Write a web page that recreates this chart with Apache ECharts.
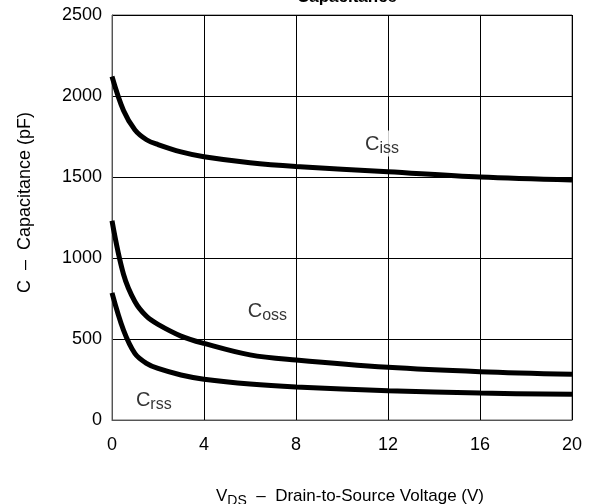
<!DOCTYPE html>
<html><head><meta charset="utf-8">
<script src="https://cdn.jsdelivr.net/npm/echarts@6/dist/echarts.min.js"></script>
<style>html,body{margin:0;padding:0;background:#fff}#c{width:600px;height:504px}</style>
</head><body><div id="c"></div>
<script>
const vds = [0, 0.5, 1, 1.5, 2, 3, 4, 6, 8, 12, 16, 20];
const ciss = [2120, 1910, 1790, 1730, 1700, 1655, 1625, 1588, 1565, 1533, 1500, 1482];
const coss = [1230, 900, 730, 640, 590, 518, 473, 402, 370, 325, 298, 282];
const crss = [785, 555, 410, 350, 318, 278, 252, 222, 204, 181, 166, 159];
const xTicks = [0, 4, 8, 12, 16, 20];
const yTicks = [0, 500, 1000, 1500, 2000, 2500];
const labels = [
  {main: 'C', sub: 'iss', at: [11.0, 1707]},
  {main: 'C', sub: 'oss', at: [5.9, 675]},
  {main: 'C', sub: 'rss', at: [1.04, 128]}
];

const font = 'Liberation Sans, Arial, sans-serif';
const chart = echarts.init(document.getElementById('c'), null, {renderer: 'canvas'});
const zip = a => vds.map((v, i) => [v, a[i]]);
const lineSeries = (name, arr) => ({
  name, type: 'line', data: zip(arr), smooth: 0.35, symbol: 'none',
  lineStyle: {color: '#000', width: 5}, z: 3
});
const rich = {
  m: {fontFamily: font, fontSize: 20, color: '#000', lineHeight: 24},
  s: {fontFamily: font, fontSize: 16, color: '#000', lineHeight: 24, padding: [8, 0, 0, 0]}
};
chart.setOption({
  animation: false,
  backgroundColor: '#fff',
  textStyle: {fontFamily: font},
  title: {
    text: 'Capacitance', left: 342, textAlign: 'center', top: -16,
    textStyle: {fontFamily: font, fontSize: 17, fontWeight: 'bold', color: '#000'}
  },
  grid: {left: 112, right: 28, top: 15, bottom: 84, show: true, borderColor: '#666', borderWidth: 1,
    containLabel: false, outerBoundsMode: 'none'},
  xAxis: {
    type: 'value', min: 0, max: 20, interval: 4,
    axisLine: {show: true, lineStyle: {color: '#555', width: 1}},
    axisTick: {show: false},
    splitLine: {show: true, lineStyle: {color: '#000', width: 1}},
    axisLabel: {fontFamily: font, fontSize: 18, color: '#000', margin: 16,
      formatter: v => xTicks.includes(v) ? String(v) : ''},
    name: '{v|V}{d|DS}{t|  –  Drain-to-Source Voltage (V)}',
    nameLocation: 'middle', nameGap: 65,
    nameTextStyle: {padding: [0, 0, 0, 16], rich: {
      v: {fontFamily: font, fontSize: 17, color: '#000'},
      d: {fontFamily: font, fontSize: 14, color: '#000', padding: [9, 0, 0, 0]},
      t: {fontFamily: font, fontSize: 17, color: '#000'}
    }}
  },
  yAxis: {
    type: 'value', min: 0, max: 2500, interval: 500,
    axisLine: {show: true, lineStyle: {color: '#555', width: 1}},
    axisTick: {show: false},
    splitLine: {show: true, lineStyle: {color: '#000', width: 1}},
    axisLabel: {fontFamily: font, fontSize: 18, color: '#000', margin: 10,
      formatter: v => yTicks.includes(v) ? String(v) : ''},
    name: 'C  –  Capacitance (pF)', nameLocation: 'middle', nameGap: 78,
    nameTextStyle: {fontFamily: font, fontSize: 18, color: '#000', padding: [0, 0, 0, 30]}
  },
  series: [
    lineSeries('Ciss', ciss),
    lineSeries('Coss', coss),
    lineSeries('Crss', crss),
    {
      type: 'scatter', symbolSize: 0, z: 4, silent: true,
      data: labels.map(l => ({value: l.at, label: {
        show: true, position: 'inside', align: 'left', verticalAlign: 'middle',
        backgroundColor: '#fff', padding: [2, 8, 0, 0],
        formatter: '{m|' + l.main + '}{s|' + l.sub + '}', rich
      }}))
    }
  ]
});
</script></body></html>
